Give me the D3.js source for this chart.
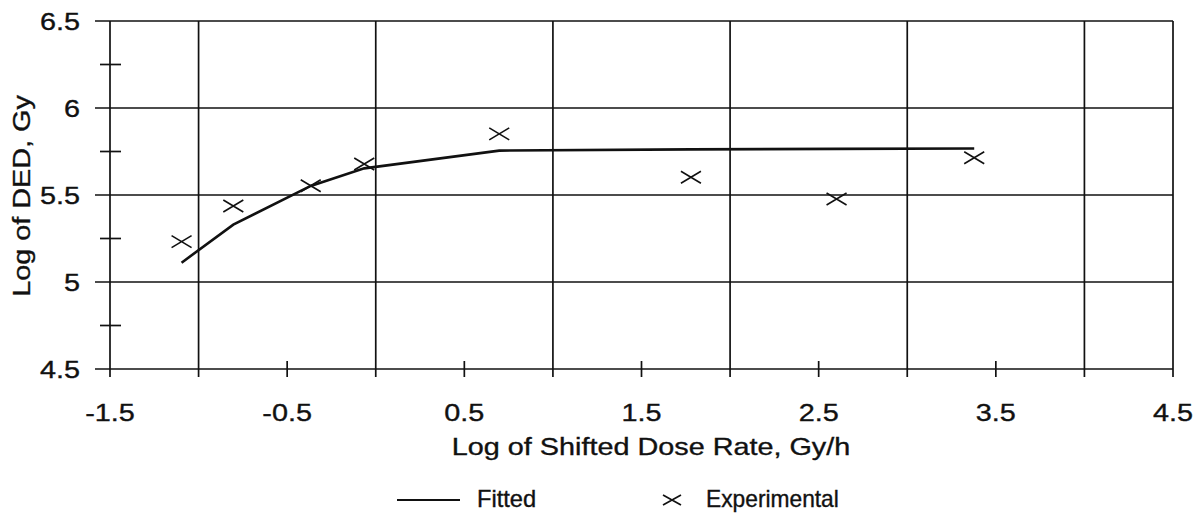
<!DOCTYPE html>
<html>
<head>
<meta charset="utf-8">
<script src="https://cdn.jsdelivr.net/npm/d3@7"></script>
<style>
  body { margin: 0; background: #fff; }
  text { font-family: "Liberation Sans", Arial, sans-serif; fill: #111; stroke: #111; stroke-width: 0.35; }
</style>
</head>
<body>
<svg id="chart" width="1202" height="514"></svg>
<script>
// tick values
var xLabelTicks = [-1.5, -0.5, 0.5, 1.5, 2.5, 3.5, 4.5];
var xGridTicks = [-1, 0, 1, 2, 3, 4, 4.5];
var yLabelTicks = [4.5, 5, 5.5, 6, 6.5];
var yMinorTicks = [4.75, 5.25, 5.75, 6.25];

// data
var doseRate = [-1.096, -0.804, -0.367, -0.065, 0.697, 1.779, 2.601, 3.378];
var experimental = [5.232, 5.437, 5.553, 5.678, 5.851, 5.602, 5.477, 5.714];
var fitted = [5.111, 5.330, 5.552, 5.653, 5.755, 5.762, 5.765, 5.767];

var svg = d3.select("#chart");
var ink = "#111";

var x = d3.scaleLinear().domain([-1.5, 4.5]).range([110, 1173]);
var y = d3.scaleLinear().domain([4.5, 6.5]).range([369, 21]);

// the font in the original is wide, so stretch it horizontally
function label(str, tx, ty, anchor, size, sx, rot) {
  svg.append("text")
    .attr("transform", "translate(" + tx + "," + ty + ") rotate(" + (rot || 0) + ") scale(" + sx + ",1)")
    .attr("text-anchor", anchor)
    .attr("font-size", size)
    .text(str);
}

var grid = svg.append("g").attr("stroke", ink).attr("stroke-width", 1.7);

// horizontal grid lines (they poke out left of the axis as ticks)
grid.selectAll("line.h").data(yLabelTicks).enter().append("line")
  .attr("class", "h")
  .attr("x1", x(-1.5) - 15).attr("x2", x(4.5))
  .attr("y1", function(d){ return y(d); }).attr("y2", function(d){ return y(d); });

// vertical grid lines, plus left axis, down past the x axis
grid.selectAll("line.v").data([-1.5].concat(xGridTicks)).enter().append("line")
  .attr("class", "v")
  .attr("x1", function(d){ return x(d); }).attr("x2", function(d){ return x(d); })
  .attr("y1", y(6.5)).attr("y2", y(4.5) + 8);

// half-unit x ticks crossing the axis
grid.selectAll("line.xm").data(xLabelTicks.slice(1, -1)).enter().append("line")
  .attr("class", "xm")
  .attr("x1", function(d){ return x(d); }).attr("x2", function(d){ return x(d); })
  .attr("y1", y(4.5) - 8).attr("y2", y(4.5) + 8);

// quarter-unit y ticks crossing the axis
grid.selectAll("line.ym").data(yMinorTicks).enter().append("line")
  .attr("class", "ym")
  .attr("x1", x(-1.5) - 10).attr("x2", x(-1.5) + 11)
  .attr("y1", function(d){ return y(d); }).attr("y2", function(d){ return y(d); });

// tick labels
yLabelTicks.forEach(function(d){ label(String(d), 80, y(d) + 8.5, "end", 24, 1.2); });
xLabelTicks.forEach(function(d){ label(String(d), x(d), 421, "middle", 24, 1.2); });

// axis titles
label("Log of Shifted Dose Rate, Gy/h", 651, 455, "middle", 24, 1.2);
label("Log of DED, Gy", 30, 196, "middle", 24, 1.2, -90);

// fitted curve
var line = d3.line()
  .x(function(d, i){ return x(doseRate[i]); })
  .y(function(d){ return y(d); });

svg.append("path")
  .datum(fitted)
  .attr("d", line)
  .attr("fill", "none")
  .attr("stroke", ink)
  .attr("stroke-width", 2.6);

// experimental crosses
function cross(cx, cy, w, h) {
  return "M" + (cx - w) + "," + (cy - h) + "L" + (cx + w) + "," + (cy + h) +
         "M" + (cx - w) + "," + (cy + h) + "L" + (cx + w) + "," + (cy - h);
}

svg.selectAll("path.pt").data(experimental).enter().append("path")
  .attr("class", "pt")
  .attr("d", function(d, i){ return cross(x(doseRate[i]), y(d), 10, 6); })
  .attr("fill", "none")
  .attr("stroke", ink)
  .attr("stroke-width", 1.6);

// legend
svg.append("line")
  .attr("x1", 397).attr("x2", 460).attr("y1", 500).attr("y2", 500)
  .attr("stroke", ink).attr("stroke-width", 2);
label("Fitted", 477, 507, "start", 23, 1.03);

svg.append("path")
  .attr("d", cross(672, 500, 9, 5))
  .attr("fill", "none").attr("stroke", ink).attr("stroke-width", 1.7);
label("Experimental", 706, 507, "start", 23, 0.99);
</script>
</body>
</html>
